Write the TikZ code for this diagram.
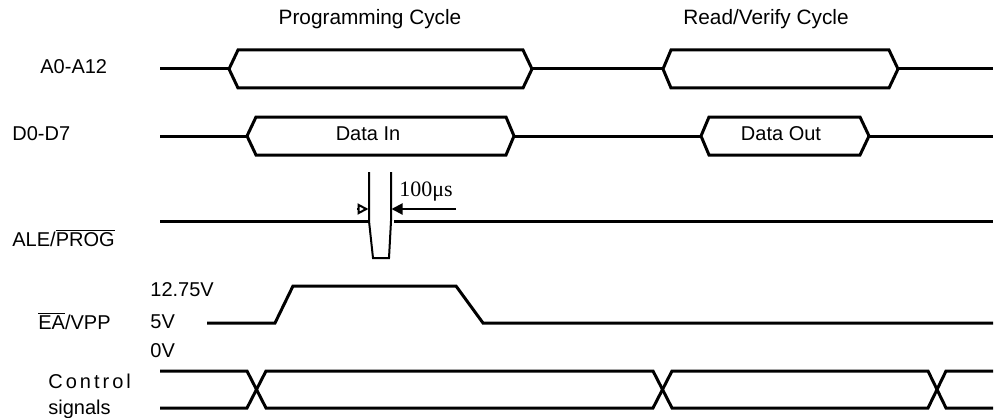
\documentclass[tikz,border=0pt]{standalone}
\usepackage{fontspec}
\setmainfont{Liberation Sans}
\newfontfamily\timesfont{Liberation Serif}
\newfontfamily\spacedfont[LetterSpace=15]{Liberation Sans}
\usetikzlibrary{arrows.meta}
\newcommand{\SigAddr}{A0-A12}
\newcommand{\SigData}{D0-D7}
\newcommand{\SigAle}{ALE/$\overline{\hbox{PROG}}$}
\newcommand{\SigVpp}{$\overline{\hbox{EA}}$/VPP}
\newcommand{\SigCtrl}{{\spacedfont Control}}

\begin{document}
\begin{tikzpicture}[x=0.5pt,y=-0.5pt,>={Triangle[length=5.5pt,width=5.5pt]},
    sig/.style={line width=1.5pt,line join=miter},
    tick/.style={line width=1pt},
    lbl/.style={anchor=west,inner sep=0pt,font=\fontsize{10}{12}\selectfont}]
  \useasboundingbox (0,0) rectangle (994,417);

  \node[lbl, anchor=center, font=\fontsize{10.4}{12}\selectfont] (ProgCycle) at (370,19) {Programming Cycle};
  \node[lbl, anchor=center, font=\fontsize{10.4}{12}\selectfont] (ReadCycle) at (766,19) {Read/Verify Cycle};

  \node[lbl] (Addr) at (40,67)  {\SigAddr};
  \node[lbl] (Data) at (12,134) {\SigData};
  \node[lbl] (Ale)  at (12,238) {\SigAle};
  \node[lbl] (Vpp)  at (38,321) {\SigVpp};
  \node[lbl] (VHi)  at (150,290) {12.75V};
  \node[lbl] (VMid) at (150,322) {5V};
  \node[lbl] (VLo)  at (150,351) {0V};
  \node[lbl] (Ctrl) at (48,381) {\SigCtrl};
  \node[lbl] (Sigs) at (48,409) {signals};

  % address bus
  \draw[sig] (160,69) -- (229,69) (532,69) -- (663,69) (898,69) -- (993,69);
  \draw[sig] (229,69) -- (238,50) -- (523,50) -- (532,69) -- (523,88) -- (238,88) -- cycle;
  \draw[sig] (663,69) -- (671,50) -- (889,50) -- (898,69) -- (889,88) -- (671,88) -- cycle;

  % data bus
  \draw[sig] (160,136) -- (247,136) (514,136) -- (701,136) (869,136) -- (993,136);
  \draw[sig] (247,136) -- (256,117) -- (506,117) -- (514,136) -- (506,155) -- (256,155) -- cycle;
  \draw[sig] (701,136) -- (709,117) -- (860,117) -- (869,136) -- (860,155) -- (709,155) -- cycle;
  \node[lbl, anchor=center] (DataIn)  at (368,134) {Data In};
  \node[lbl, anchor=center] (DataOut) at (781,134) {Data Out};

  % program pulse
  \draw[sig] (160,221) -- (369,221) (394,221) -- (993,221);
  \draw[tick] (369,172) -- (369,221) -- (373,258) -- (389,258) -- (391,221) -- (391,172);
  \draw[tick, -{Triangle[open,length=5.5pt,width=5.5pt]}] (357,209) -- (368.5,209);
  \draw[tick, ->] (456,209) -- (391.5,209);
  \node[lbl, font=\timesfont\fontsize{11}{13}\selectfont] (Width) at (399,192) {100μs};

  % programming voltage
  \draw[sig] (207,323) -- (275,323) -- (293,286) -- (456,286) -- (483,323) -- (993,323);

  % control signals
  \draw[sig] (160,371) -- (247,371) -- (266,408) -- (653,408) -- (672,371) -- (928,371) -- (946,408) -- (993,408);
  \draw[sig] (160,408) -- (247,408) -- (266,371) -- (653,371) -- (672,408) -- (928,408) -- (946,371) -- (993,371);
\end{tikzpicture}
\end{document}
